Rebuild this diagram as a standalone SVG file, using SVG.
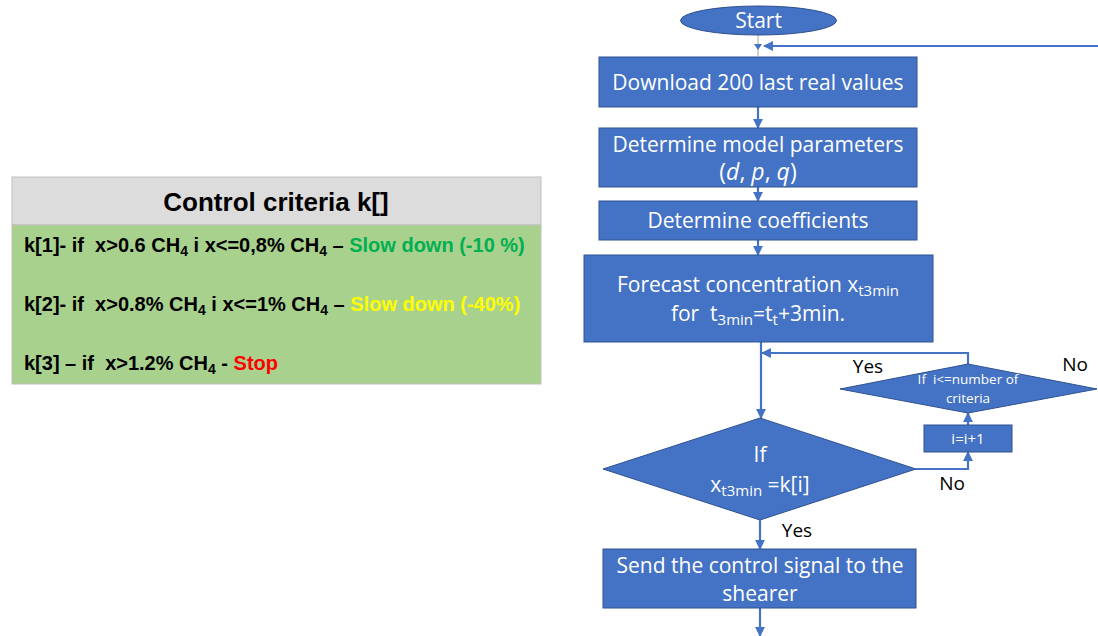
<svg xmlns="http://www.w3.org/2000/svg" width="1098" height="636" viewBox="0 0 1098 636">
<defs>
<marker id="ah" viewBox="0 0 10 10" refX="9" refY="5" markerWidth="4.5" markerHeight="4.5" orient="auto" markerUnits="strokeWidth">
<path d="M0,0 L10,5 L0,10 z" fill="#4472c4"/>
</marker>
<style>
.n{fill:#4472c4;stroke:#2f528f;stroke-width:1}
.t{font-family:"Open Sans","Liberation Sans",sans-serif;fill:#fff;text-anchor:middle;white-space:pre}
.c{stroke:#4472c4;stroke-width:2.2;fill:none}
.lab{font-family:"Open Sans","Liberation Sans",sans-serif;font-size:19px;fill:#000}
.tb{font-family:"Liberation Sans",sans-serif;font-weight:bold;font-size:20px;fill:#000;white-space:pre}
.sub{font-size:14px}
</style>
</defs>
<rect width="1098" height="636" fill="#fff"/>

<g id="criteria-table">
<rect x="12" y="177" width="529" height="48" fill="#dcdcdc" stroke="#bfbfbf" stroke-width="1"/>
<rect x="12" y="225" width="529" height="159" fill="#a9d18e" stroke="#bfbfbf" stroke-width="1"/>
<text x="276" y="211" text-anchor="middle" font-family="Liberation Sans, sans-serif" font-weight="bold" font-size="26" fill="#000">Control criteria k[]</text>
<text class="tb" xml:space="preserve" x="24" y="252">k[1]- if  x&gt;0.6 CH<tspan class="sub" dy="4">4</tspan><tspan dy="-4"> i x&lt;=0,8% CH</tspan><tspan class="sub" dy="4">4</tspan><tspan dy="-4"> – </tspan><tspan fill="#00b050">Slow down (-10 %)</tspan></text>
<text class="tb" xml:space="preserve" x="24" y="311">k[2]- if  x&gt;0.8% CH<tspan class="sub" dy="4">4</tspan><tspan dy="-4"> i x&lt;=1% CH</tspan><tspan class="sub" dy="4">4</tspan><tspan dy="-4"> – </tspan><tspan fill="#ffff00">Slow down (-40%)</tspan></text>
<text class="tb" xml:space="preserve" x="24" y="370">k[3] – if  x&gt;1.2% CH<tspan class="sub" dy="4">4</tspan><tspan dy="-4"> - </tspan><tspan fill="#ff0000">Stop</tspan></text>
</g>

<g id="connectors">
<line x1="758" y1="35" x2="758" y2="56" stroke="#a5a5a5" stroke-width="1"/>
<path d="M758,50 L754,44 L762,44 z" fill="#4472c4"/>
<polyline class="c" points="1098,46 764,46" marker-end="url(#ah)"/>
<line class="c" x1="758" y1="107" x2="758" y2="128" marker-end="url(#ah)"/>
<line class="c" x1="758" y1="187" x2="758" y2="201" marker-end="url(#ah)"/>
<line class="c" x1="758" y1="240" x2="758" y2="255" marker-end="url(#ah)"/>
<line class="c" x1="761" y1="342" x2="761" y2="418" marker-end="url(#ah)"/>
<polyline class="c" points="968,364 968,353 762,353" marker-end="url(#ah)"/>
<polyline class="c" points="916,469 968,469 968,452" marker-end="url(#ah)"/>
<line class="c" x1="968" y1="425" x2="968" y2="413" marker-end="url(#ah)"/>
<line class="c" x1="760" y1="520" x2="760" y2="549" marker-end="url(#ah)"/>
<line class="c" x1="760" y1="608" x2="760" y2="636" marker-end="url(#ah)"/>
<text class="lab" x="868" y="373" text-anchor="middle">Yes</text>
<text class="lab" x="1075" y="371" text-anchor="middle">No</text>
<text class="lab" x="952" y="490" text-anchor="middle">No</text>
<text class="lab" x="797" y="537" text-anchor="middle">Yes</text>
</g>

<g id="start">
<ellipse class="n" cx="758.5" cy="20.5" rx="78" ry="14.5"/>
<text class="t" x="758.5" y="28" font-size="21">Start</text>
</g>

<g id="download">
<rect class="n" x="599" y="57" width="318" height="50"/>
<text class="t" x="758" y="90" font-size="21">Download 200 last real values</text>
</g>

<g id="model-params">
<rect class="n" x="599" y="128" width="318" height="59"/>
<text class="t" x="758" y="152" font-size="21">Determine model parameters</text>
<text class="t" x="758" y="180" font-size="23" font-family="Liberation Serif, serif">(<tspan font-style="italic">d</tspan>, <tspan font-style="italic">p</tspan>, <tspan font-style="italic">q</tspan>)</text>
</g>

<g id="coefficients">
<rect class="n" x="599" y="201" width="318" height="39"/>
<text class="t" x="758" y="228" font-size="21">Determine coefficients</text>
</g>

<g id="forecast">
<rect class="n" x="584" y="255" width="349" height="87"/>
<text class="t" x="758" y="292" font-size="21">Forecast concentration x<tspan dy="4" font-size="15">t3min</tspan></text>
<text class="t" xml:space="preserve" x="758" y="321" font-size="21">for  t<tspan dy="4" font-size="15">3min</tspan><tspan dy="-4">=t</tspan><tspan dy="4" font-size="15">t</tspan><tspan dy="-4">+3min.</tspan></text>
</g>

<g id="decision-criteria">
<polygon class="n" points="968,364 1097,389 968,413 840,389"/>
<text class="t" x="968" y="384" font-size="13.5">If  i&lt;=number of</text>
<text class="t" x="968" y="403" font-size="13.5">criteria</text>
</g>

<g id="increment">
<rect class="n" x="924" y="425" width="88" height="27"/>
<text class="t" x="968" y="444" font-size="15">i=i+1</text>
</g>

<g id="decision-k">
<polygon class="n" points="760,418 916,469 760,520 603,469"/>
<text class="t" x="760" y="462" font-size="21">If</text>
<text class="t" x="760" y="492" font-size="21">x<tspan dy="4" font-size="15">t3min</tspan><tspan dy="-4"> =k[i]</tspan></text>
</g>

<g id="send-signal">
<rect class="n" x="603" y="549" width="313" height="59"/>
<text class="t" x="760" y="573" font-size="21">Send the control signal to the</text>
<text class="t" x="760" y="601" font-size="21">shearer</text>
</g>
</svg>
